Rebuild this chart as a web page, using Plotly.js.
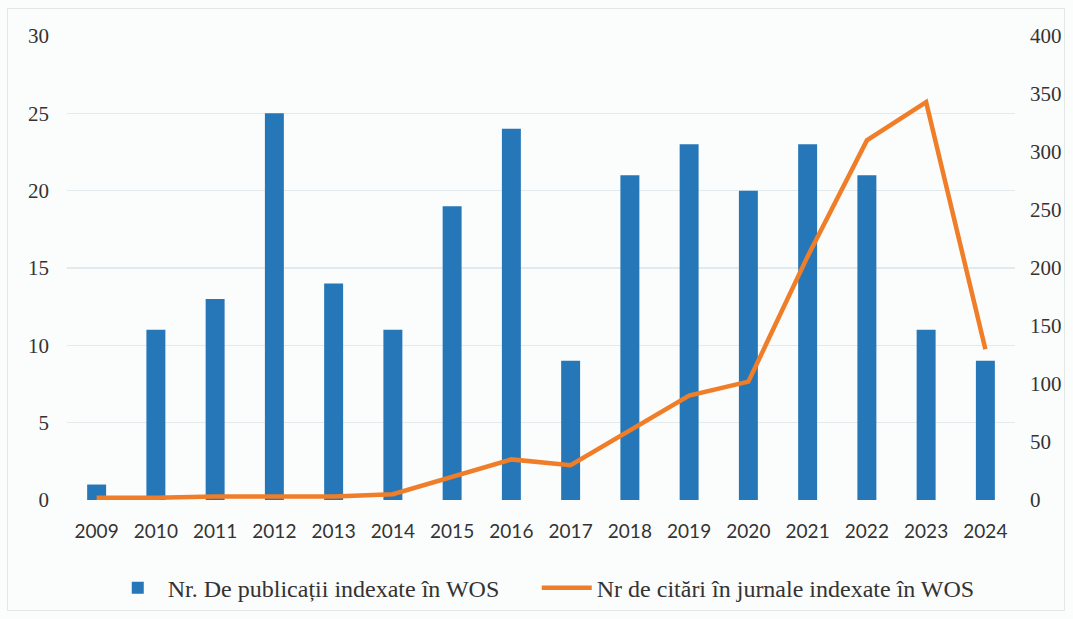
<!DOCTYPE html>
<html>
<head>
<meta charset="utf-8">
<script src="https://cdn.plot.ly/plotly-3.0.1.min.js"></script>
<style>
html,body{margin:0;padding:0;background:#fbfcfc;}
#frame{position:absolute;left:7px;top:8px;width:1058px;height:603px;border:1px solid #e4e7e8;box-sizing:border-box;}
#chart{position:absolute;left:0;top:0;width:1073px;height:619px;}
</style>
</head>
<body>
<div id="frame"></div>
<div id="chart"></div>
<script>
const years = ['2009','2010','2011','2012','2013','2014','2015','2016','2017','2018','2019','2020','2021','2022','2023','2024'];
const publications = [1, 11, 13, 25, 14, 11, 19, 24, 9, 21, 23, 20, 23, 21, 11, 9];
const citations = [2, 2, 3, 3, 3, 5, 20, 35, 30, 60, 90, 102, 210, 310, 343, 130];
const pubName = 'Nr. De publicații indexate în WOS';
const citName = 'Nr de citări în jurnale indexate în WOS';
const leftTicks = [0, 5, 10, 15, 20, 25, 30];
const rightTicks = [0, 50, 100, 150, 200, 250, 300, 350, 400];

const traces = [
  {
    type: 'bar', x: years, y: publications, name: pubName,
    marker: {color: '#2677b8'}, yaxis: 'y', legendwidth: 364
  },
  {
    type: 'scatter', mode: 'lines', x: years, y: citations, name: citName,
    line: {color: '#f07d27', width: 4.5}, yaxis: 'y2', legendwidth: 400
  }
];

const serifStack = 'Liberation Serif, Times New Roman, serif';
const layout = {
  width: 1073, height: 619,
  paper_bgcolor: 'rgba(0,0,0,0)', plot_bgcolor: 'rgba(0,0,0,0)',
  margin: {l: 67, r: 58, t: 36, b: 119},
  bargap: 0.68,
  showlegend: true,
  xaxis: {
    type: 'category', showgrid: false, zeroline: false, showline: false,
    ticks: '', tickfont: {family: 'Lato', size: 19, color: '#333'},
    ticklabelstandoff: 18
  },
  yaxis: {
    range: [0, 30], tickvals: leftTicks, showgrid: true, gridcolor: '#e3eaee', gridwidth: 1.5,
    zeroline: false, showline: false, ticks: '',
    tickfont: {family: serifStack, size: 21, color: '#333'},
    ticklabelstandoff: 17
  },
  yaxis2: {
    range: [0, 400], tickvals: rightTicks, overlaying: 'y', side: 'right',
    showgrid: false, zeroline: false, showline: false, ticks: '',
    tickfont: {family: serifStack, size: 21, color: '#333'},
    ticklabelstandoff: 14
  },
  legend: {
    orientation: 'h', x: 0.043, xanchor: 'left', yref: 'container', y: 0.05, yanchor: 'middle',
    font: {family: serifStack, size: 24, color: '#333'},
    traceorder: 'normal', itemwidth: 50, bgcolor: 'rgba(0,0,0,0)'
  }
};

Plotly.newPlot('chart', traces, layout, {displayModeBar: false, staticPlot: true});
</script>
</body>
</html>
